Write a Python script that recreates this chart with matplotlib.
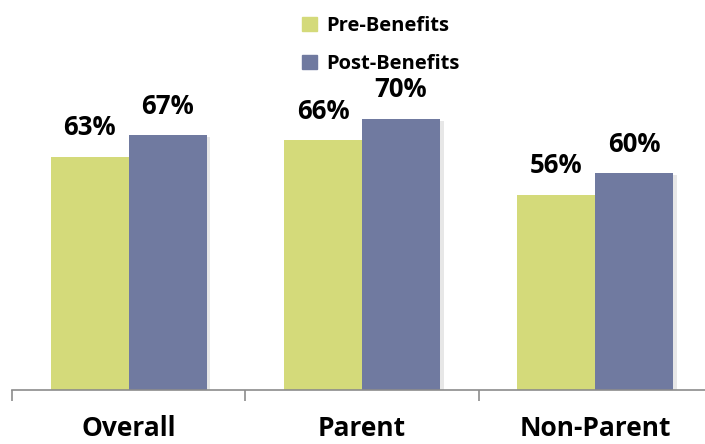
import matplotlib.pyplot as plt
import matplotlib.patheffects as pe
from matplotlib.patches import Patch
import numpy as np

categories = ["Overall", "Parent", "Non-Parent"]
pre_benefits = [63, 66, 56]
post_benefits = [67, 70, 60]
series_names = ["Pre-Benefits", "Post-Benefits"]

pre_color = "#D4DA7A"
post_color = "#707AA0"

plt.rcParams["font.family"] = ["Open Sans", "DejaVu Sans"]

fig = plt.figure(figsize=(7.05, 4.44), dpi=100)
# axes runs a bit past the right edge, like the original
ax = fig.add_axes([12 / 705, 54 / 444, 700 / 705, 380 / 444])

x = np.arange(len(categories))
w = 78 / 233

shadow = [pe.SimplePatchShadow(offset=(2.5, -1.5), shadow_rgbFace="#BBBBBB", alpha=0.35), pe.Normal()]
b1 = ax.bar(x - w / 2, pre_benefits, w, color=pre_color, path_effects=shadow, zorder=2)
b2 = ax.bar(x + w / 2, post_benefits, w, color=post_color, path_effects=shadow, zorder=2)

for bars, vals in [(b1, pre_benefits), (b2, post_benefits)]:
    for r, v in zip(bars, vals):
        ax.annotate(f"{v}%", (r.get_x() + r.get_width() / 2, v), xytext=(0, 11),
                    textcoords="offset points", ha="center", va="bottom",
                    fontsize=18.5, fontweight="bold")

ax.set_ylim(20, 90)
ax.set_xlim(-0.5, 2.5)

for s in ["top", "right", "left"]:
    ax.spines[s].set_visible(False)
ax.spines["bottom"].set_color("#8C8C8C")
ax.spines["bottom"].set_linewidth(1.2)
ax.set_yticks([])

ax.set_xticks(x)
ax.set_xticklabels(categories, fontsize=19, fontweight="bold")
ax.tick_params(axis="x", which="major", length=0, pad=18)
ax.set_xticks([-0.5, 0.5, 1.5, 2.5], minor=True)
ax.tick_params(axis="x", which="minor", length=8, width=1.2, color="#8C8C8C", direction="out")

handles = [Patch(color=pre_color, label=series_names[0]),
           Patch(color=post_color, label=series_names[1])]
fig.legend(handles=handles, loc="upper left", bbox_to_anchor=(284 / 705, 1 + 2 / 444),
           frameon=False, prop={"weight": "bold", "size": 14.5},
           handlelength=0.75, handleheight=0.7, handletextpad=0.45, labelspacing=0.9)

fig.savefig("out.png", dpi=100)
